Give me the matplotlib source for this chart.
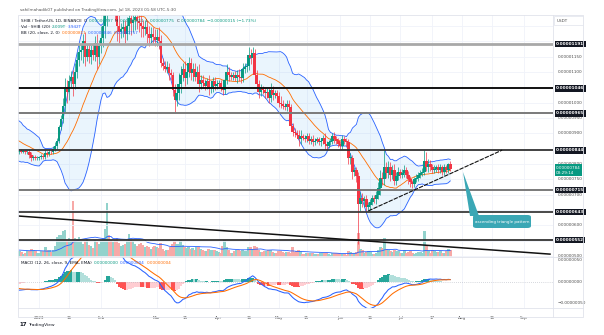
import numpy as np
import pandas as pd
import matplotlib
matplotlib.use("Agg")
import matplotlib.pyplot as plt
from matplotlib.patches import FancyBboxPatch, Polygon, Rectangle
from matplotlib.text import Annotation

# prices are in units of 0.00000001 USDT, volume in trillions of SHIB
# closes before the visible window (used only to warm up BB / MACD)
close_pre_nov = [920, 930, 925, 915, 910, 905, 860, 840, 880, 895, 900, 905, 890, 880, 900, 940, 935]
close_pre_dec = [930, 925, 915, 930, 905, 910, 885, 895, 890, 890, 885, 880, 905, 895, 860, 825, 835, 840, 815, 845, 840]

close_dec = [842, 840, 842, 838, 840, 830, 818, 822, 818, 820]
close_jan = [822, 826, 822, 835, 832, 840, 838, 850, 860, 875, 920, 945, 990, 1050, 1035, 1070, 1085, 1060, 1100, 1140,
             1165, 1170, 1200, 1150, 1175, 1150, 1170, 1155, 1195, 1150, 1185]
close_feb = [1210, 1250, 1300, 1420, 1360, 1340, 1350, 1310, 1250, 1230, 1240, 1245, 1225, 1250, 1275, 1260, 1270, 1280,
             1265, 1260, 1250, 1240, 1245, 1225, 1210, 1225, 1215, 1205]
close_mar = [1215, 1200, 1130, 1120, 1110, 1115, 1095, 1090, 1040, 1010, 1030, 1060, 1090, 1110, 1080, 1100, 1130, 1095,
             1110, 1085, 1100, 1060, 1075, 1065, 1055, 1070, 1045, 1050, 1070, 1055, 1060]
close_apr = [1065, 1050, 1040, 1075, 1100, 1090, 1085, 1090, 1080, 1090, 1085, 1080, 1110, 1115, 1120, 1155, 1145, 1160,
             1090, 1060, 1035, 1045, 1040, 1030, 1035, 1015, 1040, 1025, 1030, 1020]
close_may = [1000, 995, 990, 985, 995, 985, 925, 905, 900, 895, 880, 890, 885, 880, 890, 875, 880, 870, 875, 880,
             870, 875, 885, 865, 860, 870, 875, 890, 880, 875, 865]
close_jun = [860, 880, 875, 870, 820, 820, 775, 780, 760, 670, 690, 680, 685, 660, 665, 675, 690, 685, 700, 720,
             755, 750, 790, 770, 790, 765, 780, 745, 760, 775]
close_jul = [765, 770, 780, 765, 750, 740, 735, 750, 755, 765, 770, 775, 810, 790, 800, 790, 780, 785, 790, 780,
             790, 775, 790, 780, 799, 784]

wick_up = ([8, 6, 4, 5, 6, 8, 10, 6, 7, 5]
           + [5, 6, 8, 10, 6, 8, 5, 10, 12, 10, 8, 15, 25, 30, 25, 20, 18, 20, 30, 25, 30, 20, 25, 30, 15, 20, 18, 25, 22, 30, 20]
           + [40, 60, 80, 120, 60, 40, 40, 30, 30, 35, 20, 25, 25, 30, 100, 60, 60, 40, 40, 35, 30, 20, 25, 20, 25, 20, 20, 25]
           + [25, 30, 20, 15, 15, 20, 15, 15, 10, 20, 25, 35, 30, 20, 25, 30, 20, 15, 20, 18, 20, 25, 15, 15, 12, 10, 20, 15, 15, 15, 12]
           + [10, 10, 15, 20, 25, 15, 10, 10, 12, 15, 20, 15, 20, 15, 15, 25, 20, 20, 15, 15, 15, 15, 10, 10, 12, 15, 25, 15, 10, 10]
           + [15, 20, 12, 10, 15, 12, 10, 10, 12, 12, 15, 20, 8, 8, 10, 12, 10, 15, 8, 8, 8, 10, 10, 15, 10, 8, 8, 10, 15, 10, 8]
           + [10, 15, 10, 8, 10, 15, 10, 10, 10, 15, 20, 15, 12, 15, 10, 10, 8, 10, 12, 20, 25, 20, 55, 15, 20, 15, 15, 20, 15, 15]
           + [10, 12, 15, 10, 12, 10, 8, 8, 12, 10, 10, 12, 36, 30, 15, 12, 10, 10, 8, 10, 10, 8, 10, 8, 5, 12])
wick_dn = ([6, 5, 4, 5, 6, 10, 8, 6, 6, 5]
           + [6, 5, 6, 5, 8, 6, 5, 6, 8, 10, 8, 10, 12, 20, 35, 25, 20, 40, 15, 20, 20, 25, 40, 30, 15, 20, 25, 15, 20, 40, 25]
           + [25, 30, 40, 50, 60, 40, 30, 40, 50, 35, 20, 25, 30, 20, 25, 40, 30, 35, 25, 30, 35, 25, 20, 30, 25, 20, 25, 20]
           + [20, 25, 15, 15, 10, 15, 20, 15, 20, 45, 20, 20, 30, 20, 25, 20, 15, 20, 25, 15, 20, 25, 15, 15, 15, 10, 20, 15, 15, 15, 12]
           + [10, 12, 15, 12, 15, 20, 10, 10, 10, 15, 15, 15, 12, 15, 15, 15, 20, 15, 15, 20, 20, 15, 12, 15, 15, 15, 12, 15, 10, 10]
           + [15, 12, 10, 10, 12, 10, 10, 15, 12, 12, 20, 15, 8, 8, 10, 10, 10, 12, 8, 8, 8, 10, 10, 15, 12, 8, 8, 10, 12, 10, 10]
           + [12, 10, 10, 10, 20, 20, 25, 15, 20, 130, 25, 20, 20, 15, 15, 15, 10, 12, 15, 15, 20, 20, 20, 15, 15, 20, 15, 15, 15, 12]
           + [10, 10, 12, 12, 15, 15, 13, 10, 10, 12, 10, 10, 10, 12, 15, 12, 10, 10, 12, 10, 10, 12, 10, 10, 8, 8])

vol_pre = [2.2, 2.0, 1.6, 1.8, 2.0, 2.4, 1.8, 1.6, 1.4, 1.2, 1.5, 2.2, 2.0, 2.8, 3.0, 1.6, 1.2, 1.8, 2.0, 1.6]
volume = ([1.6, 1.4, 0.9, 1.0, 1.5, 1.6, 2.2, 1.8, 1.5, 1.2]
          + [1.1, 1.6, 1.5, 2.6, 1.8, 2.0, 1.3, 1.9, 3.0, 5.5, 5.8, 6.0, 7.0, 7.2, 4.5, 5.0, 4.6, 15.0, 5.2, 4.8,
             5.5, 4.2, 3.6, 4.4, 4.8, 3.2, 3.0, 2.5, 4.6, 4.0, 3.4]
          + [4.5, 5.0, 7.5, 14.5, 6.0, 4.5, 4.0, 4.6, 5.2, 3.8, 3.0, 3.2, 3.6, 4.4, 6.2, 4.6, 4.2, 3.5, 3.0, 3.4,
             3.8, 3.2, 2.8, 3.0, 2.6, 2.2, 2.6, 3.0]
          + [2.6, 2.4, 3.8, 2.2, 1.6, 1.8, 2.0, 2.6, 3.5, 4.2, 3.4, 3.6, 4.7, 3.2, 2.8, 2.4, 2.6, 2.2, 2.4, 2.0,
             2.6, 2.8, 2.2, 2.0, 1.6, 1.5, 2.2, 2.0, 1.8, 2.0, 1.7]
          + [1.4, 1.2, 3.0, 4.7, 2.8, 1.8, 1.2, 1.1, 1.5, 2.0, 1.8, 1.6, 2.0, 1.6, 1.5, 2.8, 2.6, 2.2, 3.0, 2.6,
             2.0, 1.4, 1.3, 1.6, 1.5, 1.8, 2.0, 1.4, 1.0, 1.0]
          + [1.6, 1.5, 1.4, 1.2, 1.4, 1.3, 1.2, 2.6, 1.4, 1.5, 1.8, 1.7, 0.9, 0.8, 1.0, 1.1, 1.0, 1.1, 0.9, 0.7,
             0.7, 1.0, 1.1, 1.2, 1.0, 0.8, 0.6, 1.0, 1.1, 1.0, 1.0]
          + [0.9, 0.9, 0.8, 0.6, 1.6, 1.3, 1.2, 1.0, 1.4, 6.5, 2.2, 1.8, 1.2, 1.4, 1.6, 1.4, 0.9, 0.9, 1.0, 1.9,
             2.8, 2.4, 5.2, 2.2, 1.8, 1.6, 1.4, 1.8, 1.5, 1.6]
          + [1.2, 1.0, 1.8, 1.2, 1.4, 1.6, 1.0, 0.9, 1.2, 1.4, 1.3, 1.1, 7.0, 3.2, 1.5, 1.2, 1.8, 1.6, 1.4, 1.3,
             1.5, 1.0, 1.1, 1.6, 2.1, 2.0])

levels = [1191, 1046, 965, 844, 715, 643, 552]
level_colors = ["#a8a8a8", "#111111", "#7a7a7a", "#333333", "#707070", "#3a3a3a", "#333333"]
level_widths = [2.0, 1.4, 1.4, 1.3, 1.3, 1.3, 1.3]
hidden_ticks = [1200, 1050, 850, 650, 550]

rising_line = [("2023-06-15", 647), ("2023-08-21", 845)]
falling_line = [("2022-12-22", 630), ("2023-09-14", 506)]

tick_dates = ["2023-01-01", "2023-01-16", "2023-02-01", "2023-03-01", "2023-03-15", "2023-04-01", "2023-04-16",
              "2023-05-01", "2023-05-15", "2023-06-01", "2023-06-16", "2023-07-01", "2023-07-17", "2023-08-01",
              "2023-08-16", "2023-09-01"]
tick_names = ["2023", "16", "Feb", "Mar", "15", "Apr", "16", "May", "15", "Jun", "16", "Jul", "17", "Aug", "16", "Sep"]

last_price = 784

# ------------------------------------------------------------------
T0 = pd.Timestamp("2023-01-01")
def dnum(s):
    return (pd.Timestamp(s) - T0).days

closes_all = np.array(close_pre_nov + close_pre_dec + close_dec + close_jan + close_feb + close_mar
                      + close_apr + close_may + close_jun + close_jul, dtype=float)
days_all = np.array([(t - T0).days for t in pd.date_range("2022-11-14", periods=len(closes_all))])
npre = len(close_pre_nov) + len(close_pre_dec)

s = pd.Series(closes_all)
basis = s.rolling(20).mean()
dev = s.rolling(20).std(ddof=0)
upper = basis + 2 * dev
lower = basis - 2 * dev
ema12 = s.ewm(span=12, adjust=False).mean()
ema26 = s.ewm(span=26, adjust=False).mean()
macd = ema12 - ema26
signal = macd.ewm(span=9, adjust=False).mean()
hist = macd - signal

d = days_all[npre:]
c = closes_all[npre:]
o = closes_all[npre - 1:-1]
hi = np.maximum(o, c) + np.array(wick_up)
lo = np.minimum(o, c) - np.array(wick_dn)
up = c >= o
GREEN, RED = "#089981", "#f23645"
ccol = np.where(up, GREEN, RED)

vol = np.array(volume)
vol_ma = pd.Series(vol_pre + volume).rolling(20).mean().values[len(vol_pre):]

W, H = 604, 335
fig = plt.figure(figsize=(W / 100, H / 100), dpi=100)
fig.patch.set_facecolor("white")

def rect(x0, y0, x1, y1):
    return [x0 / W, 1 - y1 / H, (x1 - x0) / W, (y1 - y0) / H]

XL = (-10.6, 257.5)
YL = (496.6, 1285.5)

axv = fig.add_axes(rect(18, 15, 553, 257))
ax = fig.add_axes(rect(18, 15, 553, 257), sharex=axv)
axm = fig.add_axes(rect(18, 257, 553, 308), sharex=axv)
ax.patch.set_alpha(0)
for a in (axv, ax, axm):
    for sp in a.spines.values():
        sp.set_visible(False)
    a.tick_params(left=False, right=False, bottom=False, top=False, labelleft=False, labelbottom=False)
axv.set_xlim(*XL)

# grid
for td in tick_dates:
    axv.axvline(dnum(td), color="#f0f3fa", lw=0.6, zorder=0)
    axm.axvline(dnum(td), color="#f0f3fa", lw=0.6, zorder=0)
for v in range(500, 1300, 50):
    ax.axhline(v, color="#f0f3fa", lw=0.6, zorder=0)

# volume
axv.set_ylim(0, 65)
vcol = np.where(up, "#92d2cc", "#f7a9a7")
axv.bar(d, vol, width=1.4, color=vcol, linewidth=0)
axv.plot(d, vol_ma, color="#2962ff", lw=0.6)

# bollinger
ax.set_ylim(*YL)
ax.fill_between(days_all, lower, upper, color="#2196f3", alpha=0.09, linewidth=0, zorder=1)
ax.plot(days_all, upper, color="#2962ff", lw=0.6, zorder=2)
ax.plot(days_all, lower, color="#2962ff", lw=0.6, zorder=2)
ax.plot(days_all, basis, color="#ff6d00", lw=0.6, zorder=2)

# candles
ax.vlines(d, lo, hi, colors=ccol, lw=0.5, zorder=3)
ax.bar(d, np.maximum(np.abs(c - o), 1.2), bottom=np.minimum(o, c), width=1.35, color=ccol, linewidth=0, zorder=4)

# levels and trend lines
for lv, lc, lw in zip(levels, level_colors, level_widths):
    ax.axhline(lv, color=lc, lw=lw, zorder=5)
ax.plot([dnum(p[0]) for p in rising_line], [p[1] for p in rising_line], color="#111111", lw=0.8,
        ls=(0, (4, 1)), zorder=5)
ax.plot([dnum(p[0]) for p in falling_line], [p[1] for p in falling_line], color="#111111", lw=1.1, zorder=5)

# price scale labels
ytr = ax.get_yaxis_transform()
for v in range(500, 1250, 50):
    if v in hidden_ticks:
        continue
    ax.text(1.008, v, f"{v * 1e-8:.8f}", transform=ytr, fontsize=3, color="#4a4a4a", va="center", ha="left", zorder=6)
for lv in levels:
    ax.text(1.006, lv, f"{lv * 1e-8:.8f}", transform=ytr, fontsize=3, color="white", va="center", ha="left",
            fontweight="bold", zorder=7,
            bbox=dict(boxstyle="square,pad=0.3", fc="#131722", ec="none"))
ax.text(1.006, last_price - 4, f"{last_price * 1e-8:.8f}\n03:29:14", transform=ytr, fontsize=3, color="white",
        va="center", ha="left", linespacing=1.3, zorder=7,
        bbox=dict(boxstyle="square,pad=0.35", fc=GREEN, ec="none"))

# MACD
axm.set_ylim(-60.5, 58.1)
hv = hist.values[npre:]
hp = hist.values[npre - 1:-1]
hcol = np.where(hv >= 0, np.where(hv > hp, "#26a69a", "#b2dfdb"), np.where(hv < hp, "#ff5252", "#ffcdd2"))
axm.bar(d, hv, width=1.4, color=hcol, linewidth=0)
axm.plot(d, macd.values[npre:], color="#2962ff", lw=0.75)
axm.plot(d, signal.values[npre:], color="#ff6d00", lw=0.75)
axm.axhline(0, color="#b0b4bf", lw=0.5, ls=(0, (1, 2)))
mtr = axm.get_yaxis_transform()
for v, lab in [(50, "0.00000050"), (0, "0.00000000"), (-50, "\u22120.00000050")]:
    axm.text(1.008, v, lab, transform=mtr, fontsize=3, color="#4a4a4a", va="center", ha="left")

axm.set_xticks([dnum(t) for t in tick_dates])
axm.set_xticklabels(tick_names)
axm.tick_params(labelbottom=True, labelsize=3, labelcolor="#4a4a4a", pad=2)

# frame and separators
fig.patches.append(Rectangle((18 / W, 1 - 317 / H), (583 - 18) / W, (317 - 15) / H, transform=fig.transFigure,
                             fill=False, ec="#e0e3eb", lw=0.6))
fig.lines.append(plt.Line2D([18 / W, 583 / W], [1 - 257 / H] * 2, transform=fig.transFigure, color="#e0e3eb", lw=0.6))
fig.lines.append(plt.Line2D([18 / W, 583 / W], [1 - 308 / H] * 2, transform=fig.transFigure, color="#e0e3eb", lw=0.6))
fig.lines.append(plt.Line2D([553 / W] * 2, [1 - 317 / H, 1 - 15 / H], transform=fig.transFigure, color="#e0e3eb", lw=0.6))

# callout
fig.patches.append(Polygon([(463 / W, 1 - 172 / H), (470 / W, 1 - 216 / H), (479 / W, 1 - 216 / H)], closed=True,
                           transform=fig.transFigure, fc="#3aa7b5", ec="none"))
fig.patches.append(FancyBboxPatch((473 / W, 1 - 228 / H), 58 / W, 13 / H, boxstyle="round,pad=0,rounding_size=0.006",
                                  transform=fig.transFigure, fc="#3aa7b5", ec="none"))
fig.text(502 / W, 1 - 221.5 / H, "ascending triangle pattern", fontsize=3, color="white", ha="center", va="center")

# USDT box
fig.patches.append(Rectangle((554 / W, 1 - 25 / H), 29 / W, 9 / H, transform=fig.transFigure, fc="white",
                             ec="#e0e3eb", lw=0.5))
fig.text(557 / W, 1 - 20.5 / H, "USDT", fontsize=3, color="#4a4a4a", va="center")

# header and legends
fig.text(20 / W, 1 - 10 / H, "sahilmahadik07 published on TradingView.com, Jul 18, 2023 01:58 UTC-5:30",
         fontsize=3, color="#555555", va="center")

def legend_line(x, y, parts, fs=3):
    prev = fig.text(x / W, 1 - y / H, parts[0][0], color=parts[0][1], fontsize=fs, va="center")
    for txt, col in parts[1:]:
        a = Annotation(txt, xy=(1, 0.5), xycoords=prev, xytext=(1.2, 0), textcoords="offset points",
                       va="center", ha="left", color=col, fontsize=fs)
        fig.add_artist(a)
        prev = a

dark = "#131722"
teal = "#089981"
legend_line(21, 21, [("SHIB / TetherUS, 1D, BINANCE", dark), ("O", dark), ("0.00000797", teal), ("H", dark),
                     ("0.00000811", teal), ("L", dark), ("0.00000775", teal), ("C", dark), ("0.00000784", teal),
                     ("\u22120.00000015 (\u22121.73%)", teal)])
legend_line(21, 27, [("Vol \u00b7 SHIB (20)", dark), ("2.009T", teal), ("3.942T", "#2962ff")])
legend_line(21, 33, [("BB (20, close, 2, 0)", dark), ("0.00000811", "#ff6d00"), ("0.00000846", "#2962ff"),
                     ("0.00000757", "#2962ff")])
legend_line(21, 263, [("MACD (12, 26, close, 9, EMA, EMA)", dark), ("0.00000000", teal), ("0.00000004", "#2962ff"),
                      ("0.00000004", "#ff6d00")])

fig.text(19 / W, 1 - 325 / H, "17", fontsize=4, fontweight="bold", color=dark, va="center")
fig.text(28 / W, 1 - 325 / H, "TradingView", fontsize=3.2, color=dark, va="center")

fig.savefig("out.png", dpi=100)
